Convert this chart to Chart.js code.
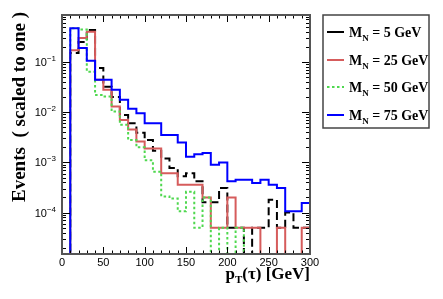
<!DOCTYPE html>
<html>
<head>
<meta charset="utf-8">
<script src="https://cdn.jsdelivr.net/npm/chart.js@4.4.0/dist/chart.umd.min.js"></script>
<style>
  html, body { margin: 0; padding: 0; background: #fff; }
  #wrap { width: 443px; height: 299px; }
</style>
</head>
<body>
<div id="wrap"><canvas id="chart"></canvas></div>
<script>
// bin edges of p_T(tau) in GeV (10 GeV bins)
const binEdges = [0, 10, 20, 30, 40, 50, 60, 70, 80, 90, 100, 110, 120, 130, 140, 150,
  160, 170, 180, 190, 200, 210, 220, 230, 240, 250, 260, 270, 280, 290, 300];

// normalised event fractions per bin
const mn5 = [0, 0.15, 0.25, 0.43, 0.076, 0.032, 0.02, 0.0088, 0.006, 0.0039, 0.0028, 0.0017,
  0.0012, 0.00077, 0.00053, 0.00061, 0.00042, 0.00016, 0.00016, 0.00031, 0.00005, 0.00005,
  0, 0.00005, 0.00005, 0.00018, 0.00005, 0.0001, 0.00005, 0.00005];
const mn25 = [0, 0.17, 0.30, 0.40, 0.044, 0.028, 0.013, 0.007, 0.0045, 0.0026, 0.0019, 0.0019,
  0.00061, 0.00061, 0.00036, 0.00036, 0.00036, 0.0002, 0.00005, 0.00005, 0.0002, 0.00005,
  0.00005, 0.00005, 0, 0, 0.00005, 0, 0, 0.00005];
const mn50 = [0, 0.47, 0.44, 0.064, 0.022, 0.0205, 0.0103, 0.0056, 0.0028, 0.002, 0.0011,
  0.00065, 0.00021, 0.00019, 0.000106, 0.00026, 0.00005, 0.0002, 0, 0.00005, 0, 0.00005,
  0, 0, 0, 0, 0, 0, 0, 0];
const mn75 = [0, 0.47, 0.19, 0.105, 0.044, 0.044, 0.028, 0.0176, 0.0117, 0.0095, 0.006, 0.006,
  0.0035, 0.0035, 0.0025, 0.0013, 0.00146, 0.00153, 0.0009, 0.001, 0.00042, 0.00045, 0.00045,
  0.00039, 0.00045, 0.00036, 0.00031, 0.000106, 0.000106, 0.000155];

const xTicks = [0, 50, 100, 150, 200, 250, 300];
const yDecades = [-1, -2, -3, -4];
const legendLabels = ['5', '25', '50', '75'];

const Y_MIN = 1.5e-5, Y_MAX = 0.86;
const FLOOR = 1e-7; // empty bins drop below the frame

// histogram outline: one point per lower bin edge, plus the closing edge
function histPoints(vals) {
  const pts = vals.map((v, i) => ({ x: binEdges[i], y: v > 0 ? v : FLOOR }));
  const last = vals[vals.length - 1];
  pts.push({ x: binEdges[binEdges.length - 1], y: last > 0 ? last : FLOOR });
  return pts;
}

const series = [
  { vals: mn5,  color: '#000000', dash: [8, 4], order: 4 },
  { vals: mn25, color: '#d65c5c', dash: [],     order: 3 },
  { vals: mn50, color: '#4fd84f', dash: [2.5, 2.5], order: 2 },
  { vals: mn75, color: '#0000ff', dash: [],     order: 1 }
];

const area = { left: 62, top: 15, right: 310, bottom: 254 };
const SERIF = '"Liberation Serif", "Times New Roman", serif';
const SANS = '"Liberation Sans", Arial, sans-serif';

// ROOT-like frame, ticks, labels, titles and legend
const rootStyle = {
  id: 'rootStyle',
  afterDatasetsDraw(chart) {
    const ctx = chart.ctx;
    const xs = chart.scales.x, ys = chart.scales.y;
    const L = chart.chartArea.left, R = chart.chartArea.right;
    const T = chart.chartArea.top, B = chart.chartArea.bottom;
    ctx.save();
    ctx.setLineDash([]);

    // ticks
    ctx.strokeStyle = '#000';
    ctx.lineWidth = 1;
    ctx.beginPath();
    for (let v = 0; v <= 300; v += 10) {
      const px = Math.round(xs.getPixelForValue(v)) + 0.5;
      const len = v % 50 === 0 ? 7 : 3.5;
      ctx.moveTo(px, B); ctx.lineTo(px, B - len);
      ctx.moveTo(px, T); ctx.lineTo(px, T + len);
    }
    for (let d = -5; d <= 0; d++) {
      for (let m = 1; m <= 9; m++) {
        const v = m * Math.pow(10, d);
        if (v < Y_MIN || v > Y_MAX) continue;
        const py = Math.round(ys.getPixelForValue(v)) + 0.5;
        const len = m === 1 ? 8 : 4;
        ctx.moveTo(L, py); ctx.lineTo(L + len, py);
        ctx.moveTo(R, py); ctx.lineTo(R - len, py);
      }
    }
    ctx.stroke();

    // frame
    ctx.strokeStyle = '#555';
    ctx.lineWidth = 2;
    ctx.strokeRect(L, T, R - L, B - T);

    // x tick labels
    ctx.fillStyle = '#000';
    ctx.font = '11px ' + SANS;
    ctx.textAlign = 'center';
    ctx.textBaseline = 'top';
    xTicks.forEach(v => ctx.fillText(String(v), xs.getPixelForValue(v), B + 3));

    // y tick labels 10^n
    yDecades.forEach(d => {
      const py = ys.getPixelForValue(Math.pow(10, d));
      const expTxt = '\u2212' + Math.abs(d);
      ctx.font = '8px ' + SANS;
      const ew = ctx.measureText(expTxt).width;
      ctx.textAlign = 'left';
      ctx.textBaseline = 'alphabetic';
      const xr = L - 6;
      ctx.fillText(expTxt, xr - ew, py - 1);
      ctx.font = '11px ' + SANS;
      ctx.textAlign = 'right';
      ctx.fillText('10', xr - ew, py + 4);
    });

    // y axis title
    ctx.save();
    ctx.translate(25, 12);
    ctx.rotate(-Math.PI / 2);
    ctx.font = 'bold 19px ' + SERIF;
    ctx.textAlign = 'right';
    ctx.textBaseline = 'alphabetic';
    ctx.fillText('Events  ( scaled to one )', 0, 0);
    ctx.restore();

    // x axis title p_T(tau) [GeV]
    const big = 'bold 17px ' + SERIF;
    const small = 'bold 11px ' + SERIF;
    ctx.textAlign = 'left';
    ctx.textBaseline = 'alphabetic';
    ctx.font = big;
    const wP = ctx.measureText('p').width;
    const wRest = ctx.measureText('(\u03c4) [GeV]').width;
    ctx.font = small;
    const wT = ctx.measureText('T').width;
    let tx = R - (wP + wT + wRest);
    const ty = 279;
    ctx.font = big; ctx.fillText('p', tx, ty); tx += wP;
    ctx.font = small; ctx.fillText('T', tx, ty + 4); tx += wT;
    ctx.font = big; ctx.fillText('(\u03c4) [GeV]', tx, ty);

    // legend
    ctx.fillStyle = '#fff';
    ctx.fillRect(323, 15, 106, 113);
    ctx.strokeStyle = '#444';
    ctx.lineWidth = 1.5;
    ctx.strokeRect(323, 15, 106, 113);
    const rowY = [32, 60, 87, 115];
    series.forEach((s, i) => {
      const y = rowY[i];
      ctx.strokeStyle = s.color;
      ctx.lineWidth = 2;
      ctx.setLineDash(i === 2 ? s.dash : []);
      ctx.beginPath();
      ctx.moveTo(327, y); ctx.lineTo(344, y);
      ctx.stroke();
      ctx.setLineDash([]);
      ctx.fillStyle = '#000';
      let lx = 349;
      const by = y + 5;
      ctx.font = 'bold 14px ' + SERIF;
      ctx.fillText('M', lx, by); lx += ctx.measureText('M').width;
      ctx.font = 'bold 9px ' + SERIF;
      ctx.fillText('N', lx, by + 4); lx += ctx.measureText('N').width;
      ctx.font = 'bold 14px ' + SERIF;
      ctx.fillText(' = ' + legendLabels[i] + ' GeV', lx, by);
    });
    ctx.restore();
  }
};

new Chart(document.getElementById('chart').getContext('2d'), {
  type: 'line',
  data: {
    datasets: series.map((s, i) => ({
      label: 'M_N = ' + legendLabels[i] + ' GeV',
      data: histPoints(s.vals),
      borderColor: s.color,
      borderWidth: 2,
      borderDash: s.dash,
      stepped: true,
      pointRadius: 0,
      fill: false,
      tension: 0,
      order: s.order
    }))
  },
  options: {
    responsive: true,
    maintainAspectRatio: false,
    animation: false,
    devicePixelRatio: 1,
    layout: { padding: { left: area.left, top: area.top, right: 443 - area.right, bottom: 299 - area.bottom } },
    plugins: { legend: { display: false }, tooltip: { enabled: false } },
    scales: {
      x: { type: 'linear', min: 0, max: 300, display: false },
      y: { type: 'logarithmic', min: Y_MIN, max: Y_MAX, display: false }
    }
  },
  plugins: [rootStyle]
});
</script>
</body>
</html>
